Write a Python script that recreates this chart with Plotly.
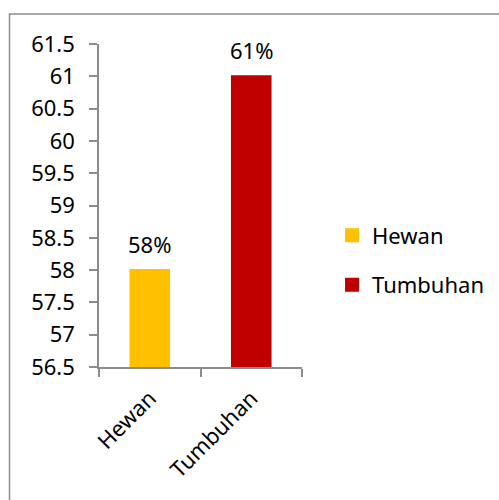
import plotly.graph_objects as go

categories = ["Hewan", "Tumbuhan"]
values = [58, 61]
labels = ["58%", "61%"]
colors = ["#FFC000", "#C00000"]

FONT = "Noto Sans"
FS = 22
fig = go.Figure()
for c, v, col in zip(categories, values, colors):
    fig.add_trace(go.Bar(x=[c], y=[v], name=c, marker=dict(color=col, line=dict(color=col, width=2)),
                         legendgroup=c, showlegend=True))

for c, v, t in zip(categories, values, labels):
    fig.add_annotation(x=c, y=v, text=t, showarrow=False, yanchor="bottom",
                       yshift=9, font=dict(family=FONT, size=FS, color="black"))

axis_col = "#8c8c8c"
fig.update_layout(
    width=499, height=500,
    margin=dict(l=99, r=197, t=44, b=133, autoexpand=False),
    paper_bgcolor="white", plot_bgcolor="white",
    barmode="overlay", bargap=0.62,
    font=dict(family=FONT, size=FS, color="black"),
    showlegend=True,
    legend=dict(x=1.148, xanchor="left", y=0.33, yanchor="middle",
                font=dict(family=FONT, size=FS, color="black"),
                tracegroupgap=18, bgcolor="rgba(0,0,0,0)"),
    xaxis=dict(type="category", tickangle=-45, showline=True, linecolor=axis_col,
               linewidth=1.5, ticks="outside", ticklen=8, tickcolor=axis_col,
               tickwidth=1.5, tickson="boundaries", showgrid=False,
               ticklabelstandoff=8,
               tickfont=dict(family=FONT, size=FS, color="black")),
    yaxis=dict(range=[56.5, 61.5], dtick=0.5, showline=True, linecolor=axis_col,
               linewidth=1.5, ticks="outside", ticklen=8, tickcolor=axis_col,
               tickwidth=1.5, showgrid=False, zeroline=False,
               ticklabelstandoff=10,
               tickfont=dict(family=FONT, size=FS, color="black")),
    shapes=[dict(type="rect", xref="paper", yref="paper",
                 x0=(9.5 - 99) / 203, x1=2.5, y0=-1.0, y1=(367 - 14) / 323,
                 line=dict(color="#8c8c8c", width=1.5), layer="below")],
)
fig.write_html("out.html")
